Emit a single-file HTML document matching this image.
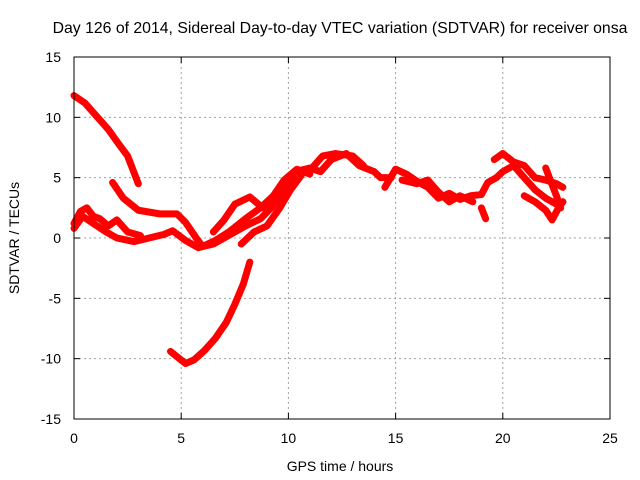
<!DOCTYPE html>
<html><head><meta charset="utf-8"><style>
body{margin:0;background:#fff}
svg{display:block;font-family:"Liberation Sans",sans-serif}
</style></head><body>
<svg id="c" width="640" height="480">
<rect width="640" height="480" fill="#fff"/>
<text x="340" y="33" text-anchor="middle" font-size="15.8">Day 126 of 2014, Sidereal Day-to-day VTEC variation (SDTVAR) for receiver onsa</text>
<g id="grid"></g><g id="data"></g><g id="axes"></g>
<text x="340" y="471" text-anchor="middle" font-size="14">GPS time / hours</text>
<text transform="translate(19,238) rotate(-90)" text-anchor="middle" font-size="14">SDTVAR / TECUs</text>
</svg>
<script>
const xTicks=[0,5,10,15,20,25];
const yTicks=[-15,-10,-5,0,5,10,15];
const s1=[[0,11.8],[0.5,11.2],[1,10.2],[1.6,9],[2,8],[2.5,6.8],[3,4.5]];
const s2=[[1.8,4.6],[2.3,3.3],[3,2.3],[4,2],[4.8,2],[5.2,1.3],[5.7,0],[6,-0.7],[6.6,-0.2],[7.3,0.6],[8,1.6],[8.7,2.5],[9.3,3.5],[9.8,4.5],[10.3,5.5],[11,5.6],[11.6,6.8],[12.2,7],[13,6.8],[13.5,6]];
const s3=[[0,0.8],[0.4,1.8],[0.9,1.2],[1.5,0.5],[2,0],[2.8,-0.3],[3.5,0],[4.2,0.3],[4.6,0.6],[5.2,-0.2],[5.8,-0.8],[6.5,-0.5],[7.2,0.2],[8,1],[8.7,1.6],[9.2,2.5],[9.8,4],[10.3,5.5],[11,5.8],[11.5,5.5],[12,6.5],[12.7,7],[13.3,6],[14,5.5],[14.3,5],[14.8,5]];
const s4=[[0,1.2],[0.3,2.2],[0.6,2.5],[0.9,1.8],[1.2,1.6],[1.6,1],[2,1.5],[2.5,0.5],[3.1,0.2]];
const s5=[[6.5,0.5],[7,1.5],[7.5,2.8],[8.2,3.4],[8.8,2.5],[9.3,3.5],[9.8,4.8],[10.4,5.7],[11,5.3]];
const s6=[[7.8,-0.5],[8.4,0.5],[9,1],[9.6,2.5],[10.1,4],[10.6,5.2]];
const s7=[[4.5,-9.4],[5.2,-10.4],[5.6,-10.1],[6.1,-9.3],[6.6,-8.3],[7.1,-7],[7.5,-5.5],[7.9,-3.8],[8.2,-2]];
const s8=[[14.5,4.2],[15,5.7],[15.5,5.3],[16,4.7],[16.5,4.2],[17,3.3],[17.5,3.7],[18,3.2],[18.5,3.5],[19,3.6],[19.3,4.6],[19.7,5],[20,5.5],[20.5,6],[21,5],[21.5,4],[22,3.3],[22.5,2.8],[22.8,3]];
const s9=[[19.6,6.5],[20,7],[20.5,6.3],[21,6],[21.5,5],[22,4.8],[22.5,4.5],[22.8,4.2]];
const s10=[[21,3.5],[21.5,3],[22,2.3],[22.3,1.5],[22.6,2.5],[22.8,3]];
const s11=[[22,5.8],[22.5,3.5],[22.7,2.5]];
const s12=[[19,2.5],[19.2,1.6]];
const s13=[[15.3,4.8],[16,4.5],[16.5,4.8],[17,3.8],[17.5,3],[18,3.5],[18.6,3]];
const series=[s1,s2,s3,s4,s5,s6,s7,s8,s9,s10,s11,s12,s13];
const X0=74,X1=610,Y0=419,Y1=57;
const xs=v=>X0+(v-0)/25*(X1-X0);
const ys=v=>Y0-(v+15)/30*(Y0-Y1);
const NS='http://www.w3.org/2000/svg';
function mk(t,a,p){const e=document.createElementNS(NS,t);for(const k in a)e.setAttribute(k,a[k]);p.appendChild(e);return e;}
const G=document.getElementById('grid'),D=document.getElementById('data'),A=document.getElementById('axes');
xTicks.forEach(t=>{const x=xs(t);
 if(t>0&&t<25){const l=mk('line',{x1:x,x2:x,y1:Y1,y2:Y0,stroke:'#a0a0a0','stroke-dasharray':'2,3'},G);
 
 }
 const tm=mk('line',{x1:x,x2:x,y1:Y0,y2:Y0-6,stroke:'#000'},A);
 
 
 const tm2=mk('line',{x1:x,x2:x,y1:Y1,y2:Y1+6,stroke:'#000'},A);
 
 
 const tx=mk('text',{x:x,y:Y0+24,'text-anchor':'middle','font-size':14},A);tx.textContent=t;
 
 });
yTicks.forEach(t=>{const y=ys(t);
 if(t>-15&&t<15){const l=mk('line',{x1:X0,x2:X1,y1:y,y2:y,stroke:'#a0a0a0','stroke-dasharray':'2,3'},G);
 
 }
 const tm=mk('line',{x1:X0,x2:X0+6,y1:y,y2:y,stroke:'#000'},A);
 
 
 const tm2=mk('line',{x1:X1,x2:X1-6,y1:y,y2:y,stroke:'#000'},A);
 
 
 const tx=mk('text',{x:X0-13,y:y+5,'text-anchor':'end','font-size':14},A);tx.textContent=t;
 
 });
const fr=mk('rect',{x:X0,y:Y1,width:X1-X0,height:Y0-Y1,fill:'none',stroke:'#000'},A);


series.forEach((s,i)=>{
 const p=mk('polyline',{points:s.map(d=>xs(d[0])+','+ys(d[1])).join(' '),fill:'none',stroke:'#ff0000','stroke-width':7,'stroke-linejoin':'round','stroke-linecap':'round'},D);
 
 
});
</script>
</body></html>
